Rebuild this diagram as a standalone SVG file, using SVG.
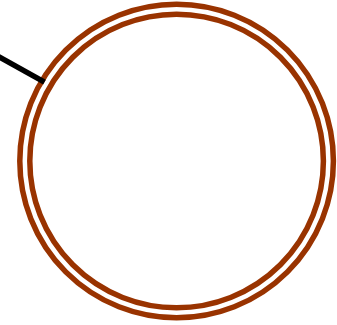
<svg xmlns="http://www.w3.org/2000/svg" width="337" height="325" viewBox="0 0 337 325">
<style>
.ring{fill:none;stroke:#993300;stroke-width:5.5}
.edge{stroke:#000;stroke-width:5.5;fill:none}
</style>
<rect width="337" height="325" fill="#fff"/>
<g id="state">
<circle class="ring" cx="176.6" cy="161" r="156.8"/>
<circle class="ring" cx="176.6" cy="161" r="146.8"/>
</g>
<g id="connectors">
<line class="edge" x1="-3" y1="55.8" x2="44.5" y2="82.2"/>
</g>
</svg>
